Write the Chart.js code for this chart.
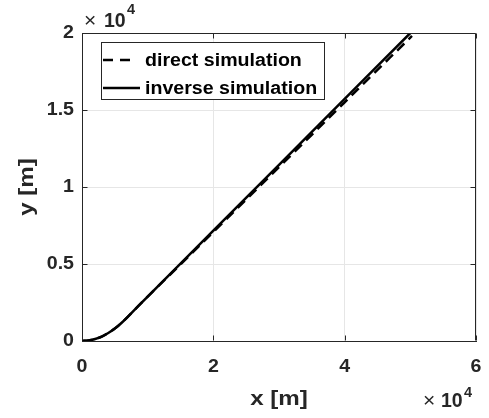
<!DOCTYPE html>
<html>
<head>
<meta charset="utf-8">
<script src="https://cdn.jsdelivr.net/npm/chart.js@4/dist/chart.umd.min.js"></script>
<style>
  html, body { margin: 0; padding: 0; background: #fff; }
  canvas { display: block; }
</style>
</head>
<body>
<canvas id="c" width="489" height="418"></canvas>
<script>
// data (metres)
const inverseX = [0, 1000, 2000, 3000, 4000, 5000, 6000, 7000, 8000, 10000, 15000, 20000, 30000, 40000, 50000];
const inverseY = [0, 33, 130, 290, 520, 810, 1170, 1590, 2020, 2880, 5020, 7160, 11440, 15720, 20000];
const directX = [0, 1000, 2000, 3000, 4000, 5000, 6000, 7000, 8000, 10000, 15000, 20000, 30000, 40000, 50250];
const directY = [0, 33, 130, 290, 520, 810, 1170, 1590, 2020, 2880, 4980, 7085, 11290, 15500, 19810];

const xTicks = [0, 20000, 40000, 60000];
const yTicks = [0, 5000, 10000, 15000, 20000];
const xTickLabels = ["0", "2", "4", "6"];
const yTickLabels = ["0", "0.5", "1", "1.5", "2"];

const FONT = "'Liberation Sans', Arial, sans-serif";
const AXIS = "#262626";

function pts(xs, ys) {
  return xs.map((x, i) => ({ x: x, y: ys[i] }));
}

// text helper, with a small horizontal stretch to match the reference
function txt(ctx, s, x, y, o) {
  ctx.save();
  ctx.translate(x, y);
  if (o.rot) ctx.rotate(o.rot);
  ctx.scale(o.sx || 1, 1);
  ctx.font = (o.weight || "bold") + " " + o.size + "px " + FONT;
  ctx.fillStyle = o.color || AXIS;
  ctx.textAlign = o.align || "left";
  ctx.textBaseline = o.baseline || "alphabetic";
  ctx.fillText(s, 0, 0);
  ctx.restore();
}

const decor = {
  id: "decor",
  afterDraw(chart) {
    const ctx = chart.ctx;
    const a = chart.chartArea;
    const xs = chart.scales.x, ys = chart.scales.y;
    const L = Math.round(a.left) + 0.5, R = Math.round(a.right) - 0.5;
    const T = Math.round(a.top) + 0.5, B = Math.round(a.bottom) - 0.5;

    // box + inward ticks
    ctx.save();
    ctx.strokeStyle = AXIS;
    ctx.lineWidth = 1;
    ctx.beginPath();
    ctx.moveTo(L, T); ctx.lineTo(R, T); ctx.lineTo(R, B);
    xTicks.forEach(v => {
      const p = Math.round(xs.getPixelForValue(v)) + 0.5;
      ctx.moveTo(p, B); ctx.lineTo(p, B - 5);
      ctx.moveTo(p, T); ctx.lineTo(p, T + 5);
    });
    yTicks.forEach(v => {
      const p = Math.round(ys.getPixelForValue(v)) + 0.5;
      ctx.moveTo(L, p); ctx.lineTo(L + 5, p);
      ctx.moveTo(R, p); ctx.lineTo(R - 5, p);
    });
    ctx.stroke();
    ctx.restore();

    // tick labels
    xTicks.forEach((v, i) => {
      txt(ctx, xTickLabels[i], xs.getPixelForValue(v), 372, { size: 17.5, align: "center", sx: 1.12 });
    });
    yTicks.forEach((v, i) => {
      txt(ctx, yTickLabels[i], 74, ys.getPixelForValue(v), { size: 17.5, align: "right", baseline: "middle", sx: 1.12 });
    });

    // axis titles
    txt(ctx, "x [m]", (a.left + a.right) / 2, 405, { size: 21, align: "center", sx: 1.15 });
    txt(ctx, "y [m]", 27, (a.top + a.bottom) / 2, { size: 21, align: "center", baseline: "middle", sx: 1.15, rot: -Math.PI / 2 });

    // exponent labels
    txt(ctx, "\u00d7", 84, 27, { size: 21, weight: "normal" });
    txt(ctx, "10", 104, 27, { size: 19.5 });
    txt(ctx, "4", 127, 14, { size: 14.5 });
    txt(ctx, "\u00d7", 423, 407, { size: 21, weight: "normal" });
    txt(ctx, "10", 441, 407, { size: 19.5 });
    txt(ctx, "4", 464, 397, { size: 14.5 });

    // legend
    const ds = chart.data.datasets;
    ctx.save();
    ctx.fillStyle = "#fff";
    ctx.fillRect(101.5, 42.5, 223, 57);
    ctx.strokeStyle = AXIS;
    ctx.lineWidth = 1;
    ctx.strokeRect(101.5, 42.5, 223, 57);
    ctx.strokeStyle = "#000";
    ctx.lineWidth = 2.5;
    ctx.setLineDash([10, 7]);
    ctx.beginPath(); ctx.moveTo(103, 60); ctx.lineTo(131, 60); ctx.stroke();
    ctx.setLineDash([]);
    ctx.beginPath(); ctx.moveTo(103, 88); ctx.lineTo(140, 88); ctx.stroke();
    ctx.restore();
    txt(ctx, ds[0].label, 145, 61, { size: 17.5, baseline: "middle", sx: 1.12, color: "#000" });
    txt(ctx, ds[1].label, 145, 89, { size: 17.5, baseline: "middle", sx: 1.12, color: "#000" });
  }
};

new Chart(document.getElementById("c").getContext("2d"), {
  type: "line",
  data: {
    datasets: [{
      label: "direct simulation",
      data: pts(directX, directY),
      borderColor: "#000",
      borderWidth: 2.5,
      borderDash: [10, 6],
      pointRadius: 0,
      cubicInterpolationMode: "monotone",
      fill: false
    }, {
      label: "inverse simulation",
      data: pts(inverseX, inverseY),
      borderColor: "#000",
      borderWidth: 2.5,
      pointRadius: 0,
      cubicInterpolationMode: "monotone",
      fill: false
    }]
  },
  options: {
    responsive: false,
    animation: false,
    devicePixelRatio: 1,
    layout: { padding: { left: 82, right: 13, top: 33, bottom: 77 } },
    plugins: { legend: { display: false }, tooltip: { enabled: false } },
    scales: {
      x: {
        type: "linear",
        min: 0, max: 60000,
        afterBuildTicks: s => { s.ticks = xTicks.map(v => ({ value: v })); },
        ticks: { display: false },
        grid: { color: "#e6e6e6", drawTicks: false },
        border: { color: AXIS, width: 1 },
        afterFit: s => { s.height = 0; }
      },
      y: {
        type: "linear",
        min: 0, max: 20000,
        afterBuildTicks: s => { s.ticks = yTicks.map(v => ({ value: v })); },
        ticks: { display: false },
        grid: { color: "#e6e6e6", drawTicks: false },
        border: { color: AXIS, width: 1 },
        afterFit: s => { s.width = 0; }
      }
    }
  },
  plugins: [decor]
});
</script>
</body>
</html>
